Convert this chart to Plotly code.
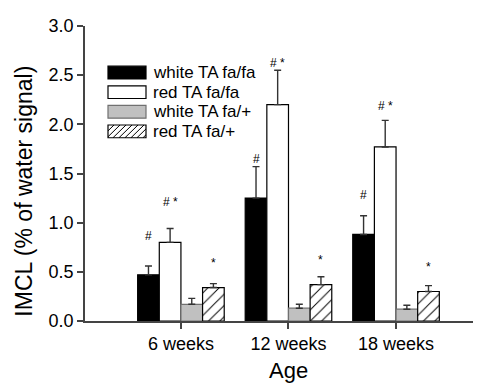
import plotly.graph_objects as go

# ---- data ----
categories = ["6 weeks", "12 weeks", "18 weeks"]
series_names = ["white TA fa/fa", "red TA fa/fa", "white TA fa/+", "red TA fa/+"]
white_fafa = [0.47, 1.25, 0.88]
red_fafa = [0.80, 2.20, 1.77]
white_fap = [0.17, 0.13, 0.12]
red_fap = [0.34, 0.37, 0.30]
white_fafa_err = [0.09, 0.32, 0.19]
red_fafa_err = [0.14, 0.35, 0.27]
white_fap_err = [0.06, 0.04, 0.04]
red_fap_err = [0.04, 0.08, 0.06]
sig_white_fafa = ["#", "#", "#"]
sig_red_fafa = ["# *", "# *", "# *"]
sig_red_fap = ["*", "*", "*"]
sig_white_fafa_y = [0.86, 1.65, 1.28]
sig_red_fafa_y = [1.21, 2.62, 2.19]
sig_red_fap_y = [0.59, 0.62, 0.55]
y_ticks = [0.0, 0.5, 1.0, 1.5, 2.0, 2.5, 3.0]

# ---- layout constants ----
W, H = 481, 383
OFF = 8  # page body margin
# target plot area in window pixels: x 85..481, y 20..321
L, T = 85 - OFF, 20 - OFF
R = W - (481 - OFF)
B = H - (321 - OFF)
FONT = "Liberation Sans, Arial, Helvetica, sans-serif"
BARGAP = 0.195
xs = list(range(len(categories)))

values = [white_fafa, red_fafa, white_fap, red_fap]
errs = [white_fafa_err, red_fafa_err, white_fap_err, red_fap_err]
fills = ["black", "white", "#c0c0c0", "white"]
lines = ["black", "black", "#707070", "black"]

fig = go.Figure()
for i in range(4):
    marker = dict(color=fills[i], line=dict(color=lines[i], width=1.2))
    if i == 3:
        marker["pattern"] = dict(shape="/", size=8, solidity=0.12,
                                 fgcolor="black", bgcolor="white", fillmode="replace")
    fig.add_trace(go.Bar(
        x=xs, y=values[i], name=series_names[i], marker=marker,
        error_y=dict(type="data", symmetric=False, array=errs[i],
                     arrayminus=[0] * len(xs), color="#333333",
                     thickness=1.4, width=3.5),
        showlegend=False,
    ))

bw = (1 - BARGAP) / 4
offsets = [(-1.5 + k) * bw for k in range(4)]
annots = []
for labels, ys, k in [(sig_white_fafa, sig_white_fafa_y, 0),
                      (sig_red_fafa, sig_red_fafa_y, 1),
                      (sig_red_fap, sig_red_fap_y, 3)]:
    for j, (lab, yy) in enumerate(zip(labels, ys)):
        annots.append(dict(x=xs[j] + offsets[k], y=yy, xref="x", yref="y",
                           text=lab, showarrow=False, yanchor="middle",
                           font=dict(family=FONT, size=12, color="black")))

# custom legend (window pixel positions converted to paper coords)
pw, ph = W - L - R, H - T - B
def px(x):
    return (x - OFF - L) / pw
def py(y):
    return 1 - (y - OFF - T) / ph

shapes = []
sw_x0, sw_x1, sw_h = 108, 146, 13
row_y = [67.5, 87.5, 107.5, 127.5]
for i in range(4):
    y0 = row_y[i] - sw_h / 2
    y1 = row_y[i] + sw_h / 2
    shapes.append(dict(type="rect", xref="paper", yref="paper",
                       x0=px(sw_x0), x1=px(sw_x1), y0=py(y1), y1=py(y0),
                       fillcolor=fills[i], line=dict(color=lines[i], width=1.2)))
    if i == 3:
        step = 6
        d = sw_x0 - sw_h
        while d < sw_x1:
            xa, ya = d, y1
            xb, yb = d + sw_h, y0
            if xa < sw_x0:
                ya = y1 - (sw_x0 - xa)
                xa = sw_x0
            if xb > sw_x1:
                yb = y0 + (xb - sw_x1)
                xb = sw_x1
            if xb > xa:
                shapes.append(dict(type="line", xref="paper", yref="paper",
                                   x0=px(xa), y0=py(ya), x1=px(xb), y1=py(yb),
                                   line=dict(color="black", width=1)))
            d += step
    annots.append(dict(x=px(151), y=py(row_y[i]), xref="paper", yref="paper",
                       text=series_names[i], showarrow=False, xanchor="left",
                       yanchor="middle",
                       font=dict(family=FONT, size=17, color="black")))

# axis titles
annots.append(dict(x=px(24), y=py(189), xref="paper", yref="paper",
                   text="IMCL (% of water signal)", textangle=-90, showarrow=False,
                   xanchor="center", yanchor="middle",
                   font=dict(family=FONT, size=23, color="black")))
annots.append(dict(x=px(288), y=py(372), xref="paper", yref="paper",
                   text="Age", showarrow=False, xanchor="center", yanchor="middle",
                   font=dict(family=FONT, size=22, color="black")))

fig.update_layout(
    width=W, height=H,
    margin=dict(l=L, r=R, t=T, b=B, pad=0),
    paper_bgcolor="white", plot_bgcolor="white",
    barmode="group", bargap=BARGAP, bargroupgap=0,
    showlegend=False,
    annotations=annots, shapes=shapes,
    font=dict(family=FONT, color="black"),
)
fig.update_xaxes(range=[-0.892, 2.79], tickvals=xs, ticktext=categories,
                 showline=True, linecolor="#444444", linewidth=1.5,
                 ticks="outside", ticklen=6, tickcolor="#444444", tickwidth=1.5,
                 showgrid=False, zeroline=False,
                 tickfont=dict(family=FONT, size=18, color="black"))
fig.update_yaxes(range=[0, 3.0], tickvals=y_ticks,
                 ticktext=[f"{v:.1f}" for v in y_ticks],
                 showline=True, linecolor="#444444", linewidth=1.5,
                 ticks="outside", ticklen=6, tickcolor="#444444", tickwidth=1.5,
                 showgrid=False, zeroline=False,
                 tickfont=dict(family=FONT, size=18, color="black"))

fig.write_html("out.html")
